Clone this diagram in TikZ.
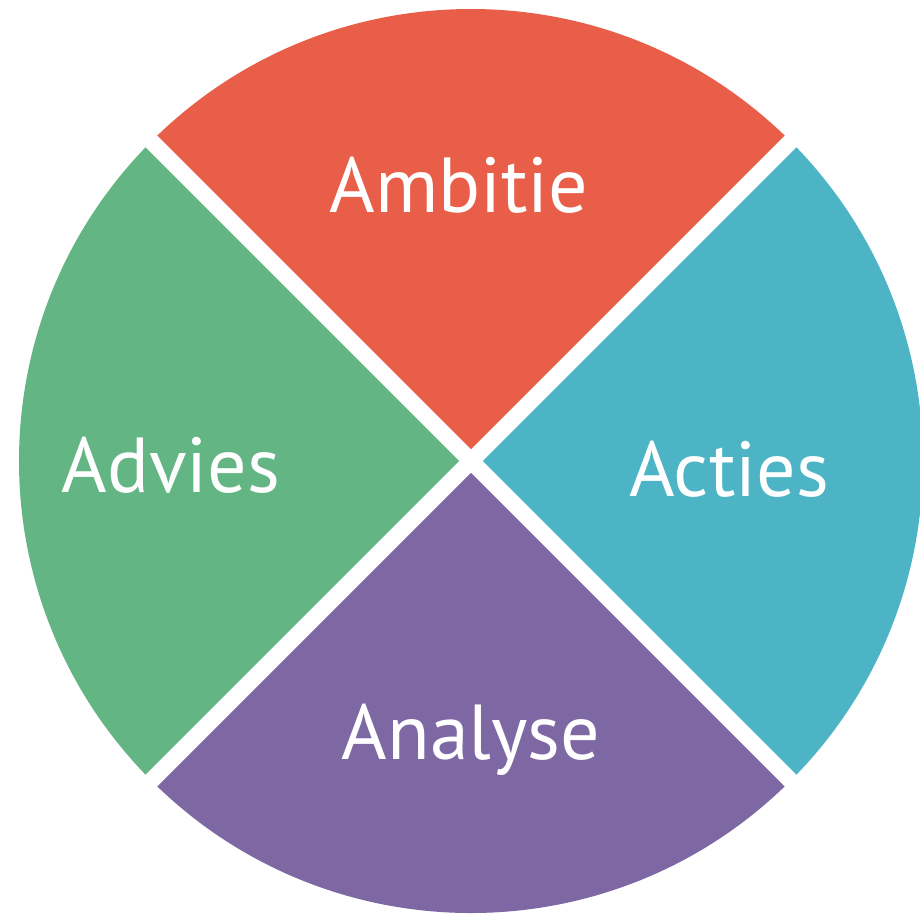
\documentclass[tikz,border=0pt]{standalone}
\usepackage{fontspec}
\setmainfont{PT Sans}
\usetikzlibrary{calc}
\definecolor{qred}{RGB}{233,94,72}
\definecolor{qteal}{RGB}{76,180,197}
\definecolor{qgreen}{RGB}{99,181,132}
\definecolor{qpurple}{RGB}{126,104,164}
\tikzset{
  lbl/.style={text=white, anchor=base, inner sep=0pt, font=\fontsize{78}{90}\selectfont},
  gap/.style={draw=white, line width=16.5pt}
}
\begin{document}
\begin{tikzpicture}[x=1pt,y=1pt]
\useasboundingbox (0,0) rectangle (920,-914);
\clip (0,0) rectangle (920,-914);
\fill[white] (0,0) rectangle (920,-914);
\coordinate (C) at (471,-461);
\fill[qred] (C) -- ++(45:452pt) arc[start angle=45, end angle=135, radius=452pt] -- cycle;
\fill[qgreen] (C) -- ++(135:452pt) arc[start angle=135, end angle=225, radius=452pt] -- cycle;
\fill[qpurple] (C) -- ++(225:452pt) arc[start angle=225, end angle=315, radius=452pt] -- cycle;
\fill[qteal] (C) -- ++(315:452pt) arc[start angle=315, end angle=405, radius=452pt] -- cycle;
\coordinate (NE) at ($(C)+(45:480pt)$);
\coordinate (SW) at ($(C)+(225:480pt)$);
\coordinate (NW) at ($(C)+(135:480pt)$);
\coordinate (SE) at ($(C)+(315:480pt)$);
\draw[gap] (NE) -- (SW);
\draw[gap] (NW) -- (SE);
\node[lbl] (ambitie) at (459,-212.5) {Ambitie};
\node[lbl] (advies) at (171,-492) {Advies};
\node[lbl] (acties) at (729,-496) {Acties};
\node[lbl] (analyse) at (471,-759) {Analyse};
\end{tikzpicture}
\end{document}
